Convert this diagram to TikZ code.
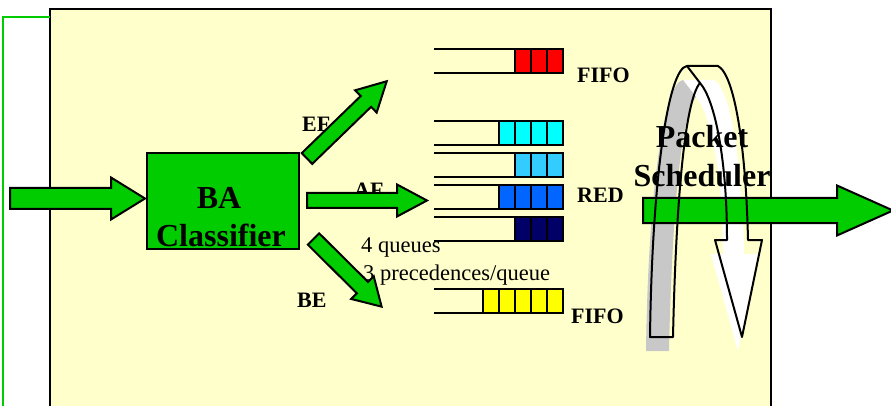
\documentclass[tikz,border=0pt]{standalone}
\usepackage{fontspec}
\setmainfont{Liberation Serif}
\begin{document}
\definecolor{panel}{HTML}{FFFFCC}
\definecolor{arrowgreen}{HTML}{00CC00}
\definecolor{qred}{HTML}{FF0000}
\definecolor{qcyan}{HTML}{00FFFF}
\definecolor{qsky}{HTML}{33CCFF}
\definecolor{qblue}{HTML}{0066FF}
\definecolor{qnavy}{HTML}{000066}
\definecolor{qyellow}{HTML}{FFFF00}
\definecolor{shadowgrey}{HTML}{C8C8C8}
\tikzset{
  outline/.style={draw=black, line width=2pt, line join=miter},
  arrowfill/.style={outline, fill=arrowgreen},
  qline/.style={draw=black, line width=2pt},
  slot/.style={outline},
  biglabel/.style={font=\bfseries\fontsize{32}{38}\selectfont, inner sep=0pt, anchor=base},
  tag/.style={font=\bfseries\fontsize{22}{26}\selectfont, inner sep=0pt, anchor=base west},
  note/.style={font=\fontsize{22.5}{26}\selectfont, inner sep=0pt, anchor=base west},
  % block arrow: length, shaft half width, head half width, head length
  pics/fatarrow/.style n args={4}{code={
    \filldraw[arrowfill] (0,-#2) -- ({#1-#4},-#2) -- ({#1-#4},-#3) -- (#1,0)
      -- ({#1-#4},#3) -- ({#1-#4},#2) -- (0,#2) -- cycle;
  }},
  % queue: top y, first slot x, number of slots (slot width 16), slot colour
  pics/queue/.style n args={4}{code={
    \draw[qline] (434,#1) -- (#2,#1) (434,#1+24) -- (#2,#1+24);
    \foreach \k in {1,...,#3}{
      \filldraw[slot, fill=#4] ({#2+16*(\k-1)},#1) rectangle ({#2+16*\k},#1+24);
    }
  }}
}
\begin{tikzpicture}[x=1pt,y=-1pt]
\useasboundingbox (0,0) rectangle (891,406);
\clip (0,0) rectangle (891,406);

% router panel and side rule
\filldraw[outline, fill=panel] (50,9) rectangle (771,430);
\draw[arrowgreen, line width=1.4pt] (3,430) -- (3,17) -- (50,17);

% queues
\pic {queue={49}{515}{3}{qred}};
\pic {queue={121}{499}{4}{qcyan}};
\pic {queue={153}{515}{3}{qsky}};
\pic {queue={185}{499}{4}{qblue}};
\pic {queue={217}{515}{3}{qnavy}};
\pic {queue={289}{483}{5}{qyellow}};

% queue and class labels
\node[tag] (fifo1) at (577,83) {FIFO};
\node[tag] (red) at (577,203) {RED};
\node[tag] (fifo2) at (571,323) {FIFO};
\node[tag] (ef) at (302,132) {EF};
\node[tag] (af) at (354,197) {AF};
\node[tag] (be) at (297,307) {BE};
\node[note] (nq) at (361,252) {4 queues};
\node[note] (np) at (363,280) {3 precedences/queue};

% classifier
\node[draw=black, line width=2pt, fill=arrowgreen, minimum width=152pt, minimum height=96pt,
      inner sep=0pt] (ba) at (223,201) {};
\node[biglabel] (batxt) at (219,208) {BA};
\node[biglabel] (cltxt) at (221,246) {Classifier};

% traffic arrows
\pic at (10,198.5) {fatarrow={135}{10.5}{21}{34}};
\pic[rotate=44.1] at (307,158.5) {fatarrow={111}{7.5}{15.5}{29}};
\pic at (307,200.5) {fatarrow={120}{7.5}{16}{30}};
\pic[rotate=-44.8] at (313.5,239) {fatarrow={96}{8}{16}{27}};

% scheduler shadow
\begin{scope}[shift={(-4,14)}]
  \fill[white] (687,66) -- (718,66) .. controls (735,75) and (746,150) .. (748,240)
    -- (762,240) -- (742,337) -- (715,240) -- (727,240)
    .. controls (727,160) and (715,100) .. (700,83) -- cycle;
  \fill[shadowgrey] (650,337) .. controls (652,180) and (668,68) .. (687,66) -- (700,83)
    .. controls (685,100) and (676,200) .. (673,337) -- cycle;
\end{scope}

% output arrow
\pic at (643,210.5) {fatarrow={250}{12.5}{25}{56}};

% scheduler rotation arrow
\draw[outline, line join=round]
  (650,337) .. controls (652,180) and (668,68) .. (687,66) -- (718,66)
  .. controls (735,75) and (746,150) .. (748,240) -- (762,240) -- (742,337)
  -- (715,240) -- (727,240) .. controls (727,160) and (715,100) .. (700,83)
  .. controls (685,100) and (676,200) .. (673,337) -- cycle;
\draw[outline] (687,66) -- (700,83);

\node[biglabel] (pk) at (702,148) {Packet};
\node[biglabel] (sch) at (702,186) {Scheduler};
\end{tikzpicture}
\end{document}
